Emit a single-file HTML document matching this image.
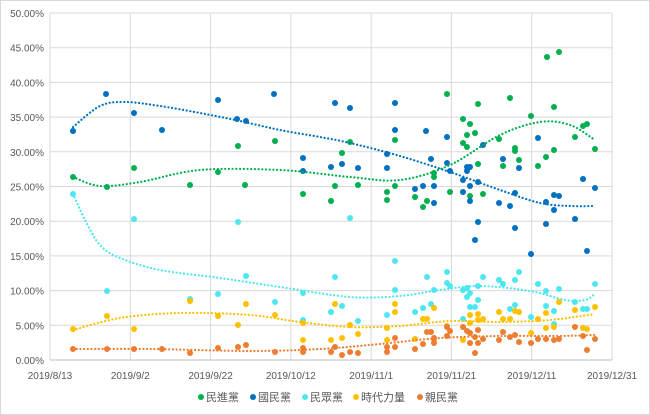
<!DOCTYPE html>
<html><head><meta charset="utf-8"><style>
body{margin:0;background:#fff;}
svg{display:block;font-family:"Liberation Sans","Noto Sans CJK TC",sans-serif;}
</style></head><body>
<svg id="s" width="650" height="415" viewBox="0 0 650 415">
<rect x="0.5" y="0.5" width="649" height="414" fill="#fff" stroke="#d9d9d9"/>
<g id="grid" stroke="#d9d9d9" stroke-width="1"></g>
<g id="lab" fill="#595959" font-size="10"></g>
<g id="pts"></g>
<g id="legend" font-size="11" fill="#595959">
<circle cx="201" cy="397" r="3" fill="#00b050"/><text x="206" y="401">民進黨</text>
<circle cx="253" cy="397" r="3" fill="#0070c0"/><text x="258" y="401">國民黨</text>
<circle cx="305" cy="397" r="3" fill="#4ee6f0"/><text x="310" y="401">民眾黨</text>
<circle cx="356" cy="397" r="3" fill="#ffc000"/><text x="361" y="401">時代力量</text>
<circle cx="420" cy="397" r="3" fill="#ed7d31"/><text x="425" y="401">親民黨</text>
</g>
</svg>
<script>
const NS="http://www.w3.org/2000/svg";
function el(t,a,p,txt){const e=document.createElementNS(NS,t);for(const k in a)e.setAttribute(k,a[k]);if(txt)e.textContent=txt;document.getElementById(p).appendChild(e);return e;}
const L=50,R=612,T=13,B=360;
for(let i=0;i<=10;i++){const y=B-i*(B-T)/10;el('line',{x1:L,x2:R,y1:y,y2:y},'grid');el('text',{x:44,y:y+4,'text-anchor':'end'},'lab',(i*5).toFixed(2)+'%');}
const xl=["2019/8/13","2019/9/2","2019/9/22","2019/10/12","2019/11/1","2019/11/21","2019/12/11","2019/12/31"];
xl.forEach((t,i)=>{const x=L+i*(R-L)/7;el('line',{x1:x,x2:x,y1:T,y2:B},'grid');el('text',{x:x,y:379,'text-anchor':'middle'},'lab',t);});
el('line',{x1:L,x2:R,y1:B,y2:B,stroke:'#bfbfbf'},'grid');
const S={
g:["#00b050","73,177 107,187 134,168 190,185 218,172 238,146 245,185 275,141 303,194 447,94 478,104 510,98 554,107 463,119 470,124 475,133 467,135 463,143 467,147 531,116 583,126 587,124 575,137 595,149 499,139 515,148 515,151 519,160 503,166 538,166 546,157 554,150 478,164 350,142 342,153 395,140 434,173 434,177 331,201 335,186 358,185 387,192 387,200 395,186 415,197 427,201 423,207 450,192 470,196 483,194 547,57 559,52",
"73,177 100,186 140,182 200,170 280,170 350,177 400,180 450,165 500,135 540,122 570,125 595,140"],
b:["#0070c0","73,131 106,94 134,113 162,130 218,100 237,119 246,121 274,94 335,103 350,108 395,103 395,130 426,131 447,137 483,145 538,138 303,158 303,171 331,167 342,164 358,168 387,154 387,168 431,159 447,163 450,171 467,167 470,167 467,171 463,180 478,182 470,186 415,189 423,186 434,186 434,203 463,192 470,201 503,159 519,168 515,193 499,203 510,206 546,202 554,195 559,196 554,210 583,179 595,188 575,219 546,224 515,228 478,222 475,240 531,254 587,251",
"73,127 100,106 125,102 160,106 200,113 240,121 280,130 320,137 350,143 400,156 450,172 500,190 540,203 570,206 595,206"],
c:["#4ee6f0","73,194 107,291 134,219 190,299 218,294 238,222 246,276 275,302 303,293 303,320 335,277 331,312 342,306 358,321 395,261 395,290 387,315 415,312 427,277 423,308 431,304 434,290 447,272 447,283 450,286 463,290 467,288 470,293 467,297 463,319 470,307 475,307 478,300 478,286 483,277 499,280 503,284 519,272 515,280 515,305 510,309 531,317 538,284 546,291 559,289 554,311 546,306 554,324 575,302 583,309 587,309 595,284 350,218",
"73,194 85,220 100,245 120,258 160,270 220,278 280,287 350,297 400,296 440,290 480,286 530,291 565,300 585,300 595,294"],
y:["#ffc000","73,329 107,316 134,329 190,301 218,316 238,325 246,304 275,315 303,323 303,340 335,304 331,340 342,338 350,325 358,334 387,328 387,340 395,304 395,312 415,339 423,319 427,319 434,308 434,340 447,326 463,340 470,315 470,323 478,314 478,320 483,319 499,312 503,319 510,319 515,311 519,312 531,333 538,319 546,328 546,313 554,327 559,302 575,310 583,328 587,329 595,307",
"73,330 120,318 180,313 250,315 300,322 350,327 400,326 450,321 500,322 550,320 595,314"],
o:["#ed7d31","73,349 107,349 134,349 162,349 190,353 218,348 238,347 246,345 275,352 303,348 303,352 331,352 335,347 342,355 350,352 358,353 387,347 387,352 395,338 395,347 415,349 423,344 427,332 431,332 434,338 434,343 447,327 450,331 447,336 463,327 467,331 470,333 475,337 478,330 470,343 478,343 483,339 475,353 499,340 503,332 510,337 515,335 519,342 531,343 538,339 546,339 554,340 559,339 575,327 583,336 587,350 595,339",
"73,349 150,349 250,351 320,349 380,344 440,338 500,336 560,336 595,335"]};
function smooth(p){let d="M"+p[0].join(",");for(let i=0;i<p.length-1;i++){const a=p[i-1]||p[i],b=p[i],c=p[i+1],e=p[i+2]||c;d+=` C${b[0]+(c[0]-a[0])/6},${b[1]+(c[1]-a[1])/6} ${c[0]-(e[0]-b[0])/6},${c[1]-(e[1]-b[1])/6} ${c[0]},${c[1]}`;}return d;}
for(const k of ["g","b","c","y","o"]){const [col,pts]=S[k];pts.split(" ").forEach(s=>{const [x,y]=s.split(",");el('circle',{cx:x,cy:y,r:3,fill:col},'pts');});}
for(const k of ["g","b","c","y","o"]){const [col,,tr]=S[k];const p=tr.split(" ").map(s=>s.split(",").map(Number));el('path',{d:smooth(p),fill:'none',stroke:col,'stroke-width':2.2,'stroke-dasharray':'0.1 3.6','stroke-linecap':'round'},'pts');}
</script>
</body></html>
